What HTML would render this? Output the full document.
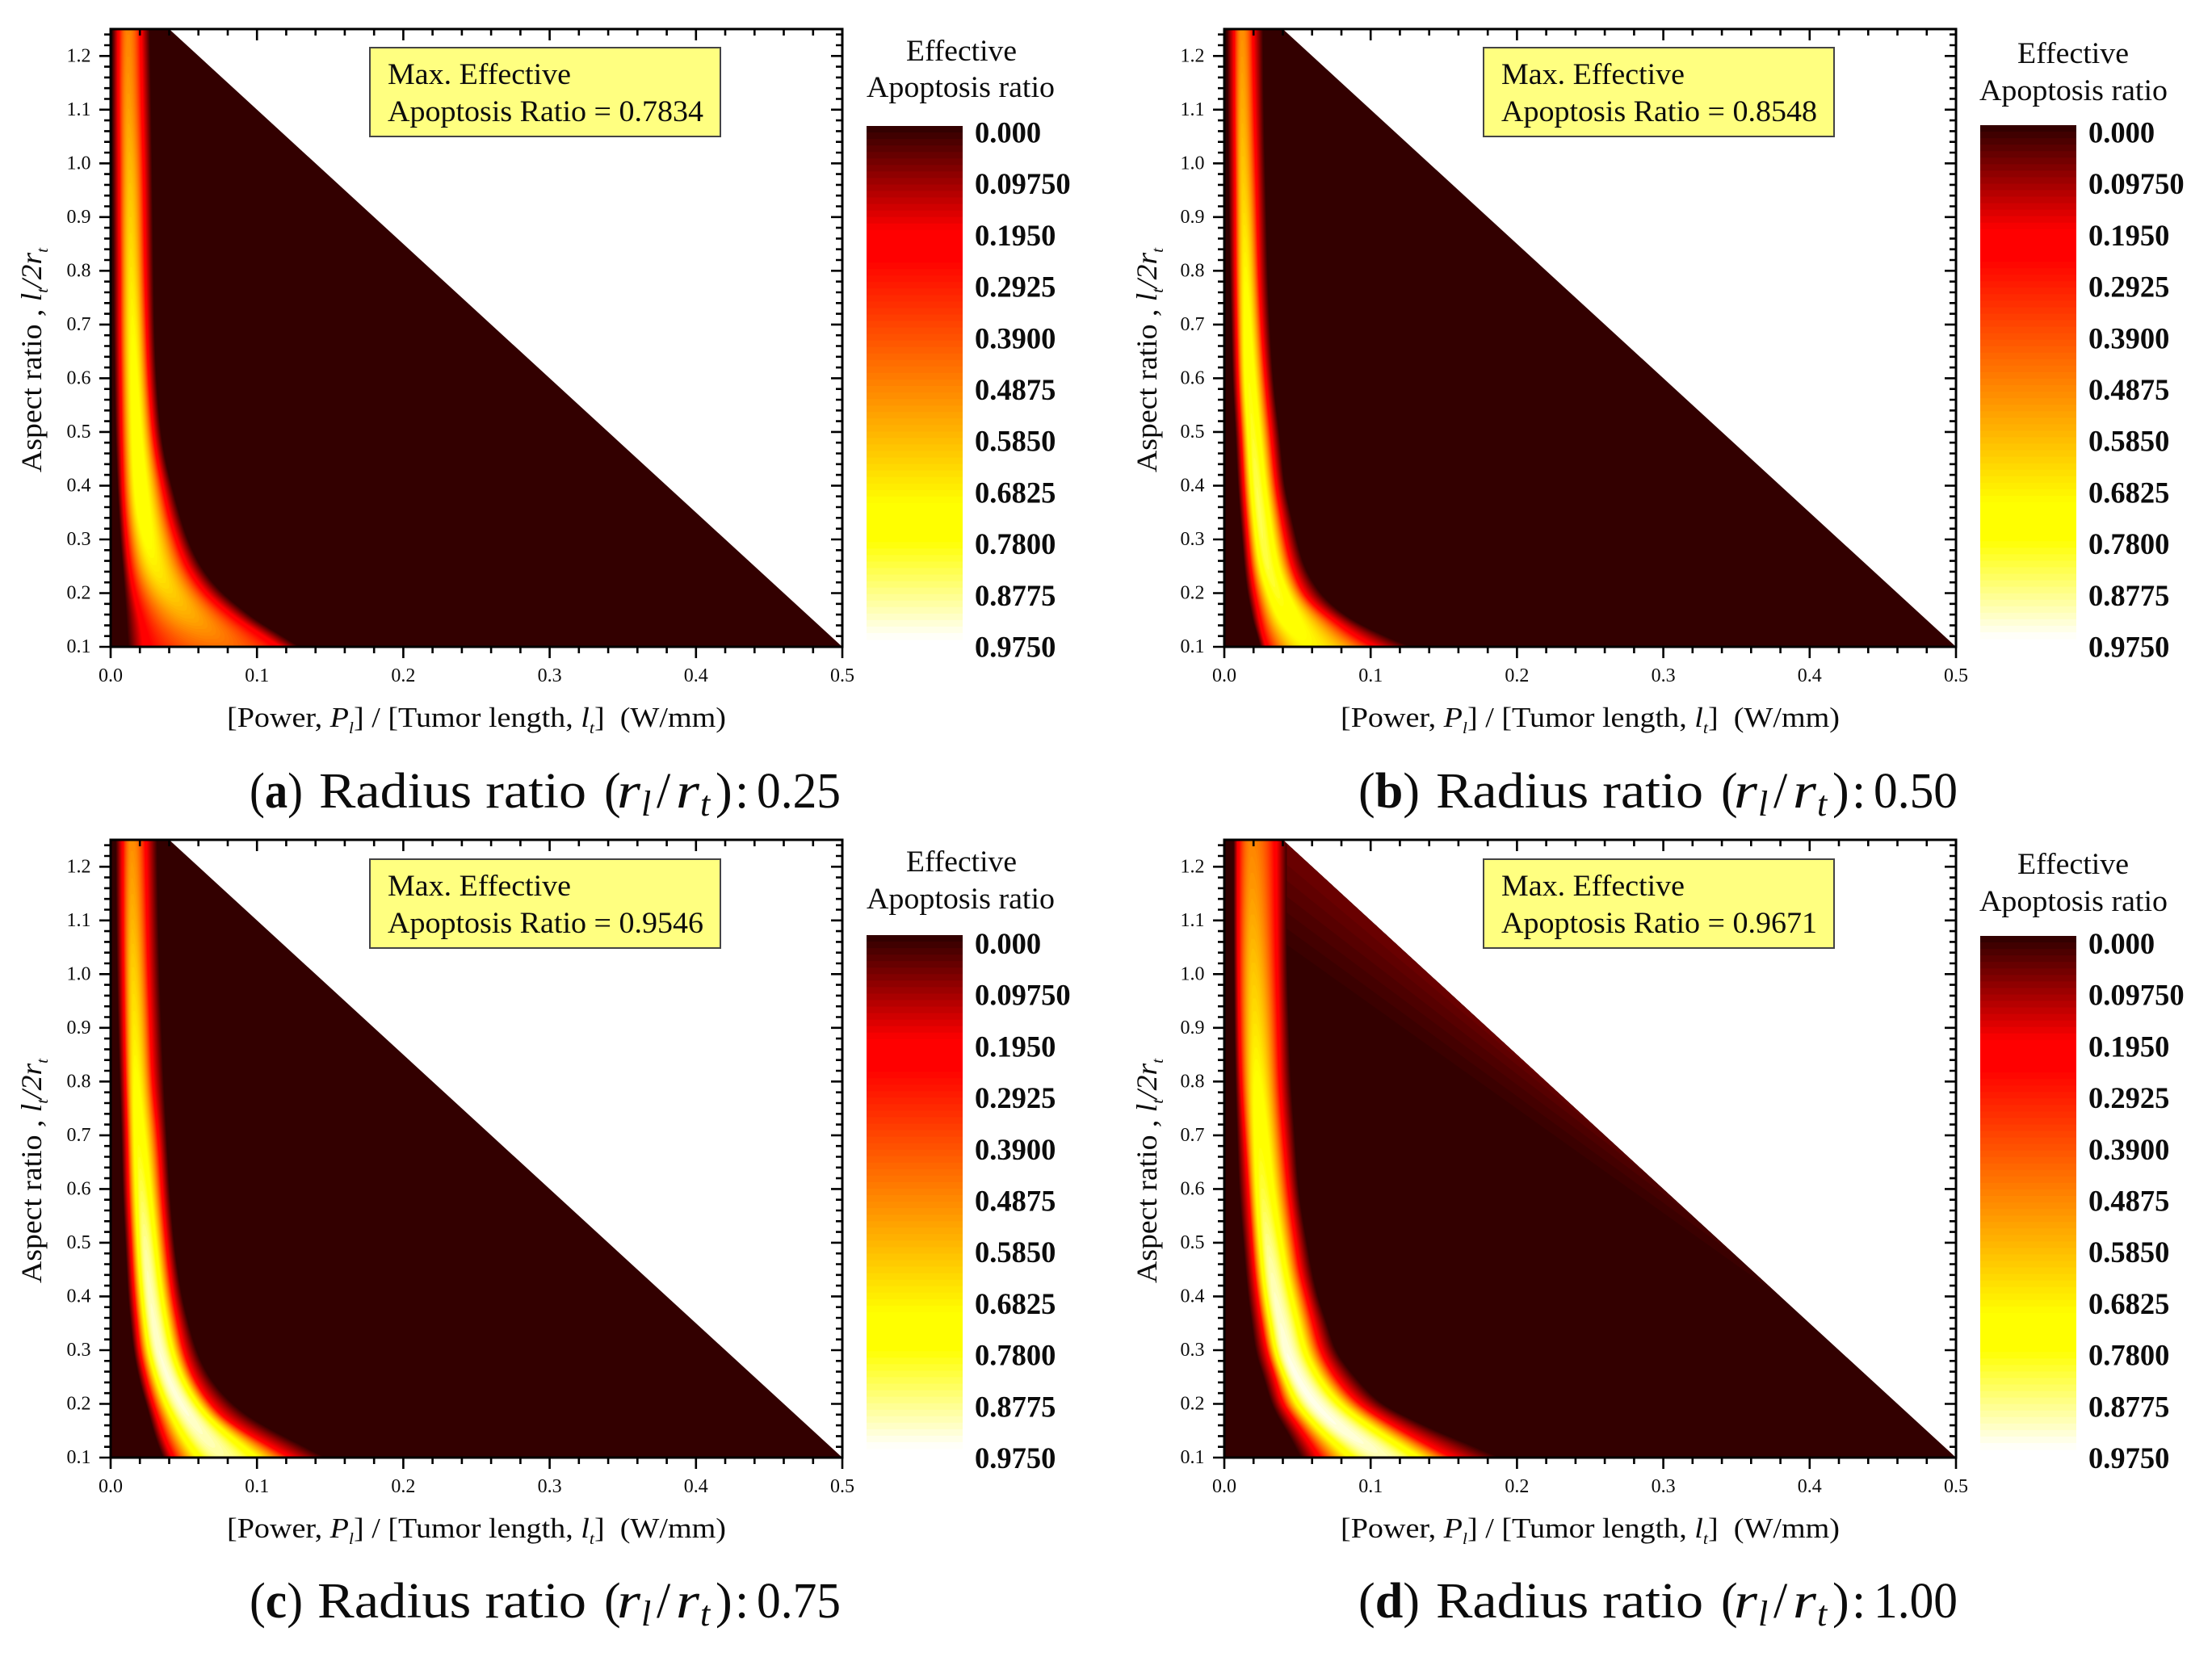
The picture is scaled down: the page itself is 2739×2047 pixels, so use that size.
<!DOCTYPE html>
<html lang="en">
<head>
<meta charset="utf-8">
<title>Effective apoptosis ratio maps</title>
<style>
html,body{margin:0;padding:0;background:#fff;}
svg{display:block;}
text{font-family:"Liberation Serif",serif;fill:#0c0c0c;white-space:pre;}
</style>
</head>
<body>
<svg id="figure" xmlns="http://www.w3.org/2000/svg" width="2739" height="2047" viewBox="0 0 2739 2047">
<rect x="0" y="0" width="2739" height="2047" fill="#fff"/>

<!-- PANEL A -->
<g id="panel-a">
  <g id="plot-a"></g>
  <g id="axes-a"></g>
  <g id="bar-a"></g>
  <rect x="458" y="59" width="434" height="110" fill="#ffff80" stroke="#444" stroke-width="2"/>
  <text x="480" y="104" font-size="37" textLength="227" lengthAdjust="spacingAndGlyphs">Max. Effective</text>
  <text x="480" y="150" font-size="37" textLength="391" lengthAdjust="spacingAndGlyphs">Apoptosis Ratio = 0.7834</text>
  <text x="1122" y="75" font-size="37" textLength="137" lengthAdjust="spacingAndGlyphs">Effective</text>
  <text x="1073" y="120" font-size="37" textLength="233" lengthAdjust="spacingAndGlyphs">Apoptosis ratio</text>
  <text transform="translate(51,585) rotate(-90)" font-size="36" textLength="278" lengthAdjust="spacingAndGlyphs">Aspect ratio , <tspan font-style="italic">l</tspan><tspan font-style="italic" font-size="20" dy="8">t</tspan><tspan font-style="italic" dy="-8">/2r</tspan><tspan font-style="italic" font-size="20" dy="8">t</tspan></text>
  <text x="281" y="900" font-size="35" textLength="618" lengthAdjust="spacingAndGlyphs">[Power, <tspan font-style="italic">P</tspan><tspan font-style="italic" font-size="20" dy="8">l</tspan><tspan dy="-8">] / [Tumor length, </tspan><tspan font-style="italic">l</tspan><tspan font-style="italic" font-size="20" dy="8">t</tspan><tspan dy="-8">]  (W/mm)</tspan></text>
  <text y="1000" font-size="62"><tspan x="309" textLength="66" lengthAdjust="spacingAndGlyphs">(<tspan font-weight="bold">a</tspan>)</tspan><tspan x="395" textLength="331" lengthAdjust="spacingAndGlyphs">Radius ratio</tspan><tspan x="748">(</tspan><tspan x="764" font-style="italic" textLength="29" lengthAdjust="spacingAndGlyphs">r</tspan><tspan x="794" dy="10" font-style="italic" font-size="44">l</tspan><tspan x="813" dy="-10">/</tspan><tspan x="837" font-style="italic" textLength="29" lengthAdjust="spacingAndGlyphs">r</tspan><tspan x="867" dy="10" font-style="italic" font-size="44">t</tspan><tspan x="886" dy="-10">)</tspan><tspan x="910">:</tspan><tspan x="937" textLength="104" lengthAdjust="spacingAndGlyphs">0.25</tspan></text>
</g>

<!-- PANEL B -->
<g id="panel-b">
  <g id="plot-b"></g>
  <g id="axes-b"></g>
  <g id="bar-b"></g>
  <rect x="1837" y="59" width="434" height="110" fill="#ffff80" stroke="#444" stroke-width="2"/>
  <text x="1859" y="104" font-size="37" textLength="227" lengthAdjust="spacingAndGlyphs">Max. Effective</text>
  <text x="1859" y="150" font-size="37" textLength="391" lengthAdjust="spacingAndGlyphs">Apoptosis Ratio = 0.8548</text>
  <text x="2498" y="78" font-size="37" textLength="138" lengthAdjust="spacingAndGlyphs">Effective</text>
  <text x="2451" y="124" font-size="37" textLength="233" lengthAdjust="spacingAndGlyphs">Apoptosis ratio</text>
  <text transform="translate(1432,585) rotate(-90)" font-size="36" textLength="278" lengthAdjust="spacingAndGlyphs">Aspect ratio , <tspan font-style="italic">l</tspan><tspan font-style="italic" font-size="20" dy="8">t</tspan><tspan font-style="italic" dy="-8">/2r</tspan><tspan font-style="italic" font-size="20" dy="8">t</tspan></text>
  <text x="1660" y="900" font-size="35" textLength="618" lengthAdjust="spacingAndGlyphs">[Power, <tspan font-style="italic">P</tspan><tspan font-style="italic" font-size="20" dy="8">l</tspan><tspan dy="-8">] / [Tumor length, </tspan><tspan font-style="italic">l</tspan><tspan font-style="italic" font-size="20" dy="8">t</tspan><tspan dy="-8">]  (W/mm)</tspan></text>
  <text y="1000" font-size="62"><tspan x="1682" textLength="76" lengthAdjust="spacingAndGlyphs">(<tspan font-weight="bold">b</tspan>)</tspan><tspan x="1778" textLength="331" lengthAdjust="spacingAndGlyphs">Radius ratio</tspan><tspan x="2131">(</tspan><tspan x="2147" font-style="italic" textLength="29" lengthAdjust="spacingAndGlyphs">r</tspan><tspan x="2177" dy="10" font-style="italic" font-size="44">l</tspan><tspan x="2196" dy="-10">/</tspan><tspan x="2220" font-style="italic" textLength="29" lengthAdjust="spacingAndGlyphs">r</tspan><tspan x="2250" dy="10" font-style="italic" font-size="44">t</tspan><tspan x="2269" dy="-10">)</tspan><tspan x="2293">:</tspan><tspan x="2320" textLength="104" lengthAdjust="spacingAndGlyphs">0.50</tspan></text>
</g>

<!-- PANEL C -->
<g id="panel-c">
  <g id="plot-c"></g>
  <g id="axes-c"></g>
  <g id="bar-c"></g>
  <rect x="458" y="1064" width="434" height="110" fill="#ffff80" stroke="#444" stroke-width="2"/>
  <text x="480" y="1109" font-size="37" textLength="227" lengthAdjust="spacingAndGlyphs">Max. Effective</text>
  <text x="480" y="1155" font-size="37" textLength="391" lengthAdjust="spacingAndGlyphs">Apoptosis Ratio = 0.9546</text>
  <text x="1122" y="1079" font-size="37" textLength="137" lengthAdjust="spacingAndGlyphs">Effective</text>
  <text x="1073" y="1125" font-size="37" textLength="233" lengthAdjust="spacingAndGlyphs">Apoptosis ratio</text>
  <text transform="translate(51,1589) rotate(-90)" font-size="36" textLength="278" lengthAdjust="spacingAndGlyphs">Aspect ratio , <tspan font-style="italic">l</tspan><tspan font-style="italic" font-size="20" dy="8">t</tspan><tspan font-style="italic" dy="-8">/2r</tspan><tspan font-style="italic" font-size="20" dy="8">t</tspan></text>
  <text x="281" y="1904" font-size="35" textLength="618" lengthAdjust="spacingAndGlyphs">[Power, <tspan font-style="italic">P</tspan><tspan font-style="italic" font-size="20" dy="8">l</tspan><tspan dy="-8">] / [Tumor length, </tspan><tspan font-style="italic">l</tspan><tspan font-style="italic" font-size="20" dy="8">t</tspan><tspan dy="-8">]  (W/mm)</tspan></text>
  <text y="2003" font-size="62"><tspan x="309" textLength="66" lengthAdjust="spacingAndGlyphs">(<tspan font-weight="bold">c</tspan>)</tspan><tspan x="393" textLength="333" lengthAdjust="spacingAndGlyphs">Radius ratio</tspan><tspan x="748">(</tspan><tspan x="764" font-style="italic" textLength="29" lengthAdjust="spacingAndGlyphs">r</tspan><tspan x="794" dy="10" font-style="italic" font-size="44">l</tspan><tspan x="813" dy="-10">/</tspan><tspan x="837" font-style="italic" textLength="29" lengthAdjust="spacingAndGlyphs">r</tspan><tspan x="867" dy="10" font-style="italic" font-size="44">t</tspan><tspan x="886" dy="-10">)</tspan><tspan x="910">:</tspan><tspan x="937" textLength="104" lengthAdjust="spacingAndGlyphs">0.75</tspan></text>
</g>

<!-- PANEL D -->
<g id="panel-d">
  <g id="plot-d"></g>
  <g id="axes-d"></g>
  <g id="bar-d"></g>
  <rect x="1837" y="1064" width="434" height="110" fill="#ffff80" stroke="#444" stroke-width="2"/>
  <text x="1859" y="1109" font-size="37" textLength="227" lengthAdjust="spacingAndGlyphs">Max. Effective</text>
  <text x="1859" y="1155" font-size="37" textLength="391" lengthAdjust="spacingAndGlyphs">Apoptosis Ratio = 0.9671</text>
  <text x="2498" y="1082" font-size="37" textLength="138" lengthAdjust="spacingAndGlyphs">Effective</text>
  <text x="2451" y="1128" font-size="37" textLength="233" lengthAdjust="spacingAndGlyphs">Apoptosis ratio</text>
  <text transform="translate(1432,1589) rotate(-90)" font-size="36" textLength="278" lengthAdjust="spacingAndGlyphs">Aspect ratio , <tspan font-style="italic">l</tspan><tspan font-style="italic" font-size="20" dy="8">t</tspan><tspan font-style="italic" dy="-8">/2r</tspan><tspan font-style="italic" font-size="20" dy="8">t</tspan></text>
  <text x="1660" y="1904" font-size="35" textLength="618" lengthAdjust="spacingAndGlyphs">[Power, <tspan font-style="italic">P</tspan><tspan font-style="italic" font-size="20" dy="8">l</tspan><tspan dy="-8">] / [Tumor length, </tspan><tspan font-style="italic">l</tspan><tspan font-style="italic" font-size="20" dy="8">t</tspan><tspan dy="-8">]  (W/mm)</tspan></text>
  <text y="2003" font-size="62"><tspan x="1682" textLength="76" lengthAdjust="spacingAndGlyphs">(<tspan font-weight="bold">d</tspan>)</tspan><tspan x="1778" textLength="331" lengthAdjust="spacingAndGlyphs">Radius ratio</tspan><tspan x="2131">(</tspan><tspan x="2147" font-style="italic" textLength="29" lengthAdjust="spacingAndGlyphs">r</tspan><tspan x="2177" dy="10" font-style="italic" font-size="44">l</tspan><tspan x="2196" dy="-10">/</tspan><tspan x="2220" font-style="italic" textLength="29" lengthAdjust="spacingAndGlyphs">r</tspan><tspan x="2250" dy="10" font-style="italic" font-size="44">t</tspan><tspan x="2269" dy="-10">)</tspan><tspan x="2293">:</tspan><tspan x="2320" textLength="104" lengthAdjust="spacingAndGlyphs">1.00</tspan></text>
</g>
</svg>

<script>
// ---- Axis and legend labels ----
const xTickLabels = ['0.0','0.1','0.2','0.3','0.4','0.5'];
const yTickLabels = ['0.1','0.2','0.3','0.4','0.5','0.6','0.7','0.8','0.9','1.0','1.1','1.2'];
const colorbarLabels = ['0.000','0.09750','0.1950','0.2925','0.3900','0.4875','0.5850','0.6825','0.7800','0.8775','0.9750'];

// ---- Colormap ----
const stopValues = [0, 0.195, 0.25, 0.72, 0.79, 0.98];
const stopReds   = [51, 255, 255, 255, 255, 255];
const stopGreens = [0, 0, 0, 255, 255, 255];
const stopBlues  = [0, 0, 0, 0, 0, 255];

// ---- Data domain (feasible region) ----
const regionPowers  = [0, 0.04, 0.5, 0];
const regionAspects = [1.25, 1.25, 0.1, 0.1];

// ---- Rows (aspect ratio) at which the band was read ----
const aspectRows = [1.25,1.1,1.0,0.9,0.8,0.7,0.6,0.5,0.45,0.4,0.35,0.3,0.25,0.2,0.175,0.15,0.125,0.1];

// ---- Panel a: power at each contour crossing, per row ----
const aLeftDark  = [.001,.001,.0012,.0015,.0017,.002,.0025,.0032,.0038,.0045,.0055,.0065,.008,.0094,.010,.0105,.011,.0118];
const aLeftRed   = [.005,.005,.0055,.0055,.006,.006,.0065,.007,.0075,.008,.009,.0105,.0125,.0155,.0175,.0195,.021,.022];
const aRidge     = [.012,.012,.013,.0135,.014,.015,.016,.0175,.0185,.0197,.0218,.025,.030,.040,.047,.055,.065,.075];
const aRightRed  = [.021,.022,.023,.0235,.024,.025,.0265,.0295,.0322,.036,.040,.0455,.053,.066,.076,.088,.102,.117];
const aRightDark = [.027,.028,.0285,.029,.0295,.030,.0315,.0345,.0375,.042,.047,.053,.062,.077,.088,.100,.115,.130];
const aPeak      = [.50,.55,.60,.64,.68,.72,.75,.77,.78,.78,.77,.74,.70,.64,.60,.56,.51,.46];

// ---- Panel b ----
const bLeftDark  = [.0015,.002,.0025,.003,.0037,.0046,.0055,.0075,.0082,.0092,.0105,.012,.0135,.0157,.0175,.0193,.022,.0245];
const bLeftRed   = [.0064,.0066,.007,.0072,.0074,.008,.009,.011,.012,.0129,.0142,.0157,.0175,.0203,.0221,.0239,.0258,.0285];
const bRidge     = [.012,.0122,.0125,.0135,.0144,.0153,.0166,.0193,.0205,.0221,.024,.0262,.0295,.0359,.0393,.0433,.0497,.0571];
const bRightRed  = [.020,.021,.022,.023,.0239,.0258,.0285,.0322,.034,.0359,.039,.0424,.047,.0552,.0635,.0755,.0884,.105];
const bRightDark = [.0267,.0272,.028,.029,.0298,.0313,.0335,.0378,.0395,.0414,.0455,.0497,.0552,.0663,.0755,.0884,.1068,.1289];
const bPeak      = [.52,.58,.62,.67,.72,.76,.80,.82,.84,.85,.855,.85,.84,.82,.80,.77,.74,.71];

// ---- Panel c ----
const cLeftDark  = [.0033,.0037,.0042,.005,.006,.0072,.0081,.0099,.0108,.0118,.0135,.0155,.019,.024,.0265,.029,.032,.0357];
const cLeftRed   = [.0079,.008,.0085,.009,.0098,.0109,.0118,.0136,.0145,.0158,.0175,.0195,.0235,.0285,.0315,.0345,.038,.0422];
const cRidge     = [.0144,.0148,.0153,.0162,.0171,.0186,.021,.0235,.025,.027,.0295,.033,.039,.048,.054,.0605,.068,.0765];
const cRightRed  = [.0245,.0255,.0263,.0277,.0291,.033,.0354,.0385,.0405,.043,.0465,.0505,.0575,.0695,.0785,.092,.108,.125];
const cRightDark = [.032,.0328,.0337,.035,.0365,.0385,.0405,.0436,.046,.049,.0535,.059,.068,.084,.096,.112,.130,.148];
const cPeak      = [.52,.59,.65,.69,.74,.79,.85,.91,.925,.935,.945,.95,.954,.954,.95,.94,.93,.91];

// ---- Panel d ----
const dLeftDark  = [.0062,.0062,.0065,.0068,.0075,.0085,.0099,.0128,.0143,.016,.0185,.021,.0265,.0321,.0365,.042,.047,.0519];
const dLeftRed   = [.0091,.0092,.0094,.010,.0111,.0135,.016,.0185,.02,.0222,.025,.0284,.034,.0395,.0455,.0519,.058,.0642];
const dRidge     = [.0185,.019,.0198,.021,.0222,.024,.0259,.0296,.032,.0346,.0385,.042,.0495,.0617,.0705,.0815,.095,.1086];
const dRightRed  = [.0358,.036,.0365,.0375,.0383,.041,.0444,.0494,.052,.0568,.0615,.0667,.077,.0938,.1075,.1235,.14,.158];
const dRightDark = [.0432,.0432,.0432,.0445,.0457,.0485,.051,.0568,.06,.0642,.0705,.0765,.09,.1086,.126,.1457,.168,.19];
const dPeak      = [.50,.57,.63,.68,.74,.79,.84,.90,.925,.94,.95,.962,.967,.967,.965,.96,.95,.93];

// ---- Panel d: faint tint along the hypotenuse ----
const tintLevels      = [.008,.016,.025,.034,.043,.052];
const tintStartAspect = [1.06,1.09,1.12,1.15,1.18,1.21];
const tintEndPower    = [.38,.35,.32,.29,.26,.23];

const NS = 'http://www.w3.org/2000/svg';
const X_MAX = 0.5, A_MIN = 0.1, A_MAX = 1.25, PLOT_W = 906, PLOT_H = 765;
const LEVEL_STEP = 0.0125, BAR_STEP = 0.0125, BAR_MAX = 0.975;
const SCAN_ROWS = 300, SMOOTH_RADIUS = 12;

const panels = [
  {id:'a', left:137,  top:36,   barX:1073, barTop:156,  labelX:1207, labelY:176.5,
   s:{ld:aLeftDark,lr:aLeftRed,rg:aRidge,rr:aRightRed,rd:aRightDark,pk:aPeak}},
  {id:'b', left:1516, top:36,   barX:2452, barTop:155,  labelX:2586, labelY:176.5,
   s:{ld:bLeftDark,lr:bLeftRed,rg:bRidge,rr:bRightRed,rd:bRightDark,pk:bPeak}},
  {id:'c', left:137,  top:1040, barX:1073, barTop:1158, labelX:1207, labelY:1181,
   s:{ld:cLeftDark,lr:cLeftRed,rg:cRidge,rr:cRightRed,rd:cRightDark,pk:cPeak}},
  {id:'d', left:1516, top:1040, barX:2452, barTop:1159, labelX:2586, labelY:1181,
   s:{ld:dLeftDark,lr:dLeftRed,rg:dRidge,rr:dRightRed,rd:dRightDark,pk:dPeak}, tint:true}
];

function colorOf(v){
  const n = stopValues.length;
  if (v <= stopValues[0]) return 'rgb(' + stopReds[0] + ',' + stopGreens[0] + ',' + stopBlues[0] + ')';
  for (let i = 0; i < n - 1; i++){
    if (v <= stopValues[i+1]){
      const t = (v - stopValues[i]) / (stopValues[i+1] - stopValues[i]);
      const r = stopReds[i] + t * (stopReds[i+1] - stopReds[i]);
      const g = stopGreens[i] + t * (stopGreens[i+1] - stopGreens[i]);
      const b = stopBlues[i] + t * (stopBlues[i+1] - stopBlues[i]);
      return 'rgb(' + Math.round(r) + ',' + Math.round(g) + ',' + Math.round(b) + ')';
    }
  }
  return 'rgb(' + stopReds[n-1] + ',' + stopGreens[n-1] + ',' + stopBlues[n-1] + ')';
}

// Cubic Hermite read-off between the tabulated rows, on log-log axes
function readRow(series, a){
  const xs = aspectRows, n = xs.length;
  const u = Math.log(a);
  let i = 0;
  while (i < n - 2 && a < xs[i+1]) i++;
  const ux = function(k){ return Math.log(xs[k]); };
  const uy = function(k){ return Math.log(series[k]); };
  const h = ux(i+1) - ux(i);
  const t = Math.max(0, Math.min(1, (u - ux(i)) / h));
  const slope = function(k){
    const lo = Math.max(0, k-1), hi = Math.min(n-1, k+1);
    return (uy(hi) - uy(lo)) / (ux(hi) - ux(lo));
  };
  const m0 = slope(i), m1 = slope(i+1);
  const t2 = t*t, t3 = t2*t;
  return Math.exp((2*t3-3*t2+1)*uy(i) + (t3-2*t2+t)*h*m0 + (-2*t3+3*t2)*uy(i+1) + (t3-t2)*h*m1);
}

// Triangular smoothing with a symmetric window that shrinks at the ends
function smoothSeries(values){
  return values.map(function(v, i){
    const r = Math.min(SMOOTH_RADIUS, i, values.length - 1 - i);
    let sum = 0, weight = 0;
    for (let k = -r; k <= r; k++){
      const w = r + 1 - Math.abs(k);
      sum += values[i+k] * w;
      weight += w;
    }
    return sum / weight;
  });
}

function makeEl(tag, parent){
  const el = document.createElementNS(NS, tag);
  parent.appendChild(el);
  return el;
}

function crossing(row, L, side){
  const edge = side < 0 ? row.ld : row.rd;
  const red  = side < 0 ? row.lr : row.rr;
  if (L < 0.2) return edge + (red - edge) * (L / 0.2);
  return row.rg - (row.rg - red) * Math.sqrt(Math.max(0, (row.pk - L) / (row.pk - 0.2)));
}

function drawPanel(p){
  const bottom = p.top + PLOT_H;
  const xScale = function(power){ return p.left + power / X_MAX * PLOT_W; };
  const yScale = function(aspect){ return bottom - (aspect - A_MIN) / (A_MAX - A_MIN) * PLOT_H; };
  const plot = document.getElementById('plot-' + p.id);
  const axes = document.getElementById('axes-' + p.id);
  const bar = document.getElementById('bar-' + p.id);

  // feasible region and clip
  const regionPts = regionPowers.map(function(v, i){ return xScale(v).toFixed(1) + ',' + yScale(regionAspects[i]).toFixed(1); }).join(' ');
  const clip = makeEl('clipPath', plot);
  clip.setAttribute('id', 'clip-' + p.id);
  const clipPoly = makeEl('polygon', clip);
  clipPoly.setAttribute('points', regionPts);
  const region = makeEl('polygon', plot);
  region.setAttribute('points', regionPts);
  region.setAttribute('fill', colorOf(0));
  
  
  const bands = makeEl('g', plot);
  bands.setAttribute('clip-path', 'url(#clip-' + p.id + ')');
  
  

  // hypotenuse tint
  if (p.tint){
    tintLevels.forEach(function(level, i){
      const endP = tintEndPower[i];
      const endA = A_MAX - (endP - regionPowers[1]) / (regionPowers[2] - regionPowers[1]) * (A_MAX - A_MIN);
      const pts = [
        [regionPowers[1], A_MAX],
        [endP, endA],
        [regionPowers[1], tintStartAspect[i]]
      ].map(function(q){ return xScale(q[0]).toFixed(1) + ',' + yScale(q[1]).toFixed(1); }).join(' ');
      const tint = makeEl('polygon', bands);
      tint.setAttribute('points', pts);
      tint.setAttribute('fill', colorOf(level));
      
      
    });
  }

  // nested contour bands, scanned evenly in log(aspect) so the tail stays smooth
  const scanAspects = [];
  for (let i = 0; i <= SCAN_ROWS; i++){
    scanAspects.push(A_MAX * Math.pow(A_MIN / A_MAX, i / SCAN_ROWS));
  }
  const scan = function(series){
    return smoothSeries(scanAspects.map(function(a){ return readRow(series, a); }));
  };
  const sLd = scan(p.s.ld), sLr = scan(p.s.lr), sRg = scan(p.s.rg);
  const sRr = scan(p.s.rr), sRd = scan(p.s.rd), sPk = scan(p.s.pk);
  const rows = scanAspects.map(function(a, i){
    return {a: a, ld: sLd[i], lr: sLr[i], rg: sRg[i], rr: sRr[i], rd: sRd[i], pk: sPk[i]};
  });
  for (let L = LEVEL_STEP; L < 0.98; L += LEVEL_STEP){
    let lefts = [], rights = [];
    const flush = function(){
      if (lefts.length > 1){
        const poly = makeEl('polygon', bands);
        poly.setAttribute('points', lefts.concat(rights.reverse()).join(' '));
        poly.setAttribute('fill', colorOf(L));
        
        
      }
      lefts = []; rights = [];
    };
    rows.forEach(function(row){
      if (row.pk > L){
        const y = yScale(row.a).toFixed(1);
        lefts.push(xScale(crossing(row, L, -1)).toFixed(1) + ',' + y);
        rights.push(xScale(crossing(row, L, 1)).toFixed(1) + ',' + y);
      } else {
        flush();
      }
    });
    flush();
  }

  // ticks
  const tickPath = [];
  for (let i = 0; i <= 25; i++){
    const v = i * 0.02, len = i % 5 === 0 ? 14 : 8, x = xScale(v).toFixed(1);
    tickPath.push('M' + x + ' ' + bottom + 'v' + len);
    tickPath.push('M' + x + ' ' + p.top + 'v' + len);
  }
  for (let i = 0; i <= 57; i++){
    const v = A_MIN + i * 0.02, len = i % 5 === 0 ? 14 : 8, y = yScale(v).toFixed(1);
    tickPath.push('M' + p.left + ' ' + y + 'h-' + len);
    tickPath.push('M' + (p.left + PLOT_W) + ' ' + y + 'h-' + len);
  }
  const ticks = makeEl('path', axes);
  ticks.setAttribute('d', tickPath.join(''));
  ticks.setAttribute('stroke', '#000');
  ticks.setAttribute('stroke-width', '2.6');
  ticks.setAttribute('fill', 'none');
  
  

  const frame = makeEl('rect', axes);
  frame.setAttribute('x', p.left);
  frame.setAttribute('y', p.top);
  frame.setAttribute('width', PLOT_W);
  frame.setAttribute('height', PLOT_H);
  frame.setAttribute('fill', 'none');
  frame.setAttribute('stroke', '#000');
  frame.setAttribute('stroke-width', '3');
  
  

  xTickLabels.forEach(function(label){
    const t = makeEl('text', axes);
    t.textContent = label;
    t.setAttribute('x', xScale(parseFloat(label)).toFixed(1));
    t.setAttribute('y', bottom + 43);
    t.setAttribute('font-size', '24');
    t.setAttribute('text-anchor', 'middle');
    
    
  });
  yTickLabels.forEach(function(label){
    const t = makeEl('text', axes);
    t.textContent = label;
    t.setAttribute('x', p.left - 24.5);
    t.setAttribute('y', (yScale(parseFloat(label)) + 7).toFixed(1));
    t.setAttribute('font-size', '24');
    t.setAttribute('text-anchor', 'end');
    
    
  });

  // colour bar
  const barH = 636;
  const barY = function(v){ return p.barTop + v / (BAR_MAX + BAR_STEP) * barH; };
  for (let i = 0; i * BAR_STEP <= BAR_MAX + 1e-6; i++){
    const v = i * BAR_STEP;
    const cell = makeEl('rect', bar);
    cell.setAttribute('x', p.barX);
    cell.setAttribute('y', barY(v).toFixed(2));
    cell.setAttribute('width', 119);
    cell.setAttribute('height', (barY(v + BAR_STEP) - barY(v) + 0.6).toFixed(2));
    cell.setAttribute('fill', colorOf(v));
    
    
  }
  colorbarLabels.forEach(function(label, i){
    const t = makeEl('text', bar);
    t.textContent = label;
    t.setAttribute('x', p.labelX);
    t.setAttribute('y', (p.labelY + i * 63.7).toFixed(1));
    t.setAttribute('font-size', '36.5');
    t.setAttribute('font-weight', 'bold');
    
    
  });
}

panels.forEach(drawPanel);
</script>
</body>
</html>
